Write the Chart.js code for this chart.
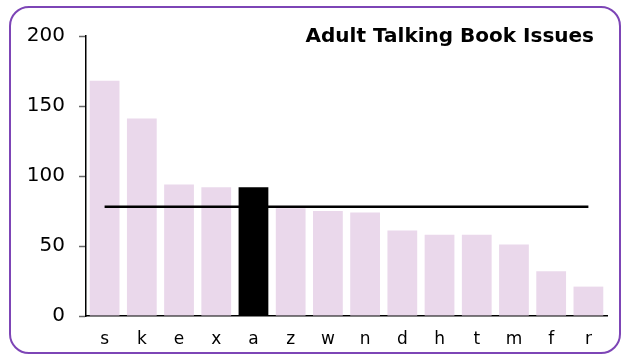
<!DOCTYPE html>
<html>
<head>
<meta charset="utf-8">
<title>Adult Talking Book Issues</title>
<script src="https://cdn.jsdelivr.net/npm/chart.js@4/dist/chart.umd.min.js"></script>
<style>
  html, body { margin: 0; padding: 0; background: #fff; }
  #wrap { position: relative; width: 627px; height: 354px; overflow: hidden; }
  #frame {
    position: absolute; left: 9px; top: 6px; width: 608px; height: 344px;
    border: 2px solid #7d45b6; border-radius: 20px; pointer-events: none;
  }
  #issuesChart { position: absolute; left: 0; top: 0; }
</style>
</head>
<body>
<div id="wrap">
  <canvas id="issuesChart" width="627" height="354"></canvas>
  <div id="frame"></div>
</div>
<script>
// Issues per library branch
const categories = ['s', 'k', 'e', 'x', 'a', 'z', 'w', 'n', 'd', 'h', 't', 'm', 'f', 'r'];
const issues = [168, 141, 94, 92, 92, 77, 75, 74, 61, 58, 58, 51, 32, 21];
const average = 78;
const highlighted = 'a';
const yTicks = [0, 50, 100, 150, 200];

const FONT = '"DejaVu Sans", Verdana, sans-serif';

// title sits inside the plot, top right
const cornerTitle = {
    id: 'cornerTitle',
    afterDraw(chart) {
        const c = chart.ctx;
        c.save();
        c.font = 'bold 20px ' + FONT;
        c.fillStyle = '#000';
        c.textAlign = 'right';
        c.textBaseline = 'alphabetic';
        c.fillText('Adult Talking Book Issues', 594, 42);
        c.restore();
    }
};

const ctx = document.getElementById('issuesChart').getContext('2d');
const chart = new Chart(ctx, {
    data: {
        labels: categories,
        datasets: [
            {
                type: 'line',
                data: categories.map(() => average),
                borderColor: '#000',
                borderWidth: 2.5,
                pointRadius: 0,
                fill: false,
                order: 0,
            },
            {
                type: 'bar',
                data: issues,
                backgroundColor: categories.map(c => c === highlighted ? '#000' : '#ead8eb'),
                categoryPercentage: 1,
                barPercentage: 0.8,
                order: 1,
            },
        ],
    },
    options: {
        responsive: false,
        animation: false,
        layout: { padding: { top: 36, right: 20, left: 0, bottom: 0 } },
        plugins: {
            legend: { display: false },
            tooltip: { enabled: false },
        },
        scales: {
            x: {
                grid: { display: false, drawTicks: false },
                border: { display: true, color: '#000', width: 1.5 },
                ticks: { color: '#000', padding: 13, font: { family: FONT, size: 17 } },
                afterFit(scale) { scale.height = 38; },
            },
            y: {
                min: 0,
                max: 200,
                afterBuildTicks(scale) { scale.ticks = yTicks.map(v => ({ value: v })); },
                grid: { display: true, drawOnChartArea: false, drawTicks: true, tickLength: 7, tickColor: '#666', tickWidth: 1.5 },
                border: { display: true, color: '#000', width: 1.5 },
                ticks: { color: '#000', padding: 14, font: { family: FONT, size: 20 } },
                afterFit(scale) { scale.width = 86; },
            },
        },
    },
    plugins: [cornerTitle],
});
</script>
</body>
</html>
